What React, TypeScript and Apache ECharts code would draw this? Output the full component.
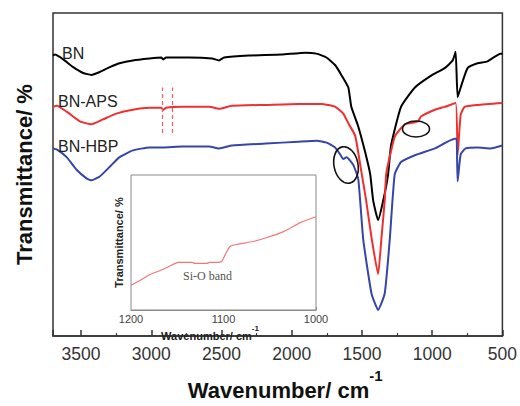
import React, { useEffect, useRef } from 'react';
import * as echarts from 'echarts';

const FONT = '"Liberation Sans", Arial, Helvetica, sans-serif';
const SERIF = '"Liberation Serif", "Times New Roman", serif';

// Main FTIR spectra (wavenumber in cm-1, transmittance in arbitrary units)
const bnWave = [3700, 3686, 3627, 3556, 3485, 3426, 3367, 3296, 3226, 3131, 3013, 2930, 2914, 2895, 2730, 2567, 2518, 2482, 2305, 2072, 1902, 1824, 1753, 1690, 1647, 1597, 1576, 1527, 1477, 1441, 1420, 1385, 1349, 1314, 1293, 1222, 1123, 1010, 911, 854, 833, 819, 797, 748, 677, 606, 514, 500];
const bnT = [290, 291, 286, 278, 272, 270, 273, 278, 282, 285, 287, 288, 286, 288, 288, 287, 285, 288, 290, 291, 293, 292, 288, 280, 270, 257, 237, 217, 190, 167, 140, 120, 140, 167, 197, 237, 257, 269, 277, 285, 294, 247, 257, 277, 282, 284, 292, 292];

const apsWave = [3700, 3674, 3603, 3509, 3426, 3344, 3249, 3131, 3013, 2930, 2914, 2895, 2777, 2588, 2518, 2426, 2185, 1951, 1788, 1690, 1633, 1597, 1548, 1510, 1470, 1430, 1385, 1362, 1338, 1328, 1300, 1264, 1194, 1123, 1100, 1080, 981, 911, 833, 819, 797, 769, 677, 500];
const apsT = [237, 238, 232, 222, 219, 224, 230, 234, 236, 236, 234, 236, 237, 237, 235, 238, 239, 240, 240, 237, 230, 220, 207, 175, 140, 100, 64, 100, 140, 167, 187, 207, 219, 221, 222, 227, 234, 237, 241, 187, 229, 237, 239, 241];

const hbpWave = [3700, 3674, 3603, 3532, 3461, 3426, 3367, 3296, 3226, 3131, 3013, 2919, 2777, 2588, 2518, 2426, 2185, 1951, 1822, 1751, 1691, 1656, 1633, 1609, 1562, 1526, 1491, 1432, 1385, 1338, 1302, 1267, 1222, 1123, 981, 840, 826, 819, 797, 762, 677, 585, 500];
const hbpT = [194, 193, 185, 172, 163, 161, 165, 175, 185, 192, 195, 195, 196, 196, 194, 197, 199, 201, 202, 200, 195, 188, 183, 185, 177, 162, 100, 44, 27, 44, 100, 167, 180, 187, 194, 204, 204, 160, 188, 194, 195, 194, 197];

// Inset: BN-APS Si-O band region
const insetWave = [1200, 1190, 1179, 1165, 1152, 1149, 1140, 1134, 1131, 1118, 1115, 1106, 1102, 1098, 1093, 1086, 1068, 1053, 1035, 1017, 1000];
const insetT = [25, 30, 36, 41, 47, 48, 48, 48, 47, 47, 48, 48, 49, 56, 64, 66, 69, 73, 79, 88, 94];

// C-H bands marked on BN-APS (dashed lines)
const chBands = [2921, 2850];
const chBandRange = [210, 257];

const zip = (xs: number[], ys: number[]) => xs.map((x, i) => [x, ys[i]]);

export default function App() {
  const ref = useRef<HTMLDivElement>(null);
  useEffect(() => {
    const chart = echarts.init(ref.current!, null, { renderer: 'svg' });
    chart.setOption({
      animation: false,
      backgroundColor: '#fff',
      grid: [
        { left: 53, top: 13, width: 452, height: 333, show: true, borderColor: '#333', borderWidth: 1.5, backgroundColor: 'transparent' },
        { left: 131, top: 175, width: 185, height: 135, show: true, borderColor: '#8a8a8a', borderWidth: 1, backgroundColor: '#fff', z: 5 },
      ],
      xAxis: [
        {
          gridIndex: 0, type: 'value', min: 500, max: 3700, inverse: true, interval: 500,
          axisLine: { show: true, lineStyle: { color: '#333', width: 1.5 } },
          axisTick: { show: true, inside: true, length: 6, lineStyle: { color: '#333', width: 1.5 } },
          minorTick: { show: true, splitNumber: 2, length: 3, lineStyle: { color: '#333', width: 1.2 } },
          splitLine: { show: false },
          axisLabel: {
            color: '#333', fontSize: 17.5, fontFamily: FONT, margin: 9,
            formatter: (v: number) => (v % 500 === 0 ? String(v) : ''),
          },
          name: '{a|Wavenumber/ cm}{s|-1}',
          nameLocation: 'middle', nameGap: 29,
          nameTextStyle: {
            padding: [0, 0, 0, 15],
            rich: {
              a: { fontSize: 22, fontWeight: 'bold', color: '#111', fontFamily: FONT, verticalAlign: 'bottom', lineHeight: 33 },
              s: { fontSize: 15, fontWeight: 'bold', color: '#111', fontFamily: FONT, verticalAlign: 'top', lineHeight: 33 },
            },
          },
        },
        {
          gridIndex: 1, type: 'value', min: 1000, max: 1200, inverse: true, interval: 50,
          axisLine: { show: true, lineStyle: { color: '#8a8a8a', width: 1 } },
          axisTick: { show: true, inside: true, length: 3, lineStyle: { color: '#8a8a8a', width: 1 } },
          splitLine: { show: false },
          axisLabel: {
            color: '#444', fontSize: 11, fontFamily: FONT, margin: 3,
            formatter: (v: number) => (v % 100 === 0 ? String(v) : ''),
          },
          name: '{a|Wavenumber/ cm}{s|-1}',
          nameLocation: 'middle', nameGap: 9,
          nameTextStyle: {
            padding: [0, 27, 0, 0],
            rich: {
              a: { fontSize: 11, fontWeight: 'bold', color: '#222', fontFamily: FONT, verticalAlign: 'bottom', lineHeight: 17 },
              s: { fontSize: 8, fontWeight: 'bold', color: '#222', fontFamily: FONT, verticalAlign: 'top', lineHeight: 17 },
            },
          },
        },
      ],
      yAxis: [
        {
          gridIndex: 0, type: 'value', min: 0, max: 334,
          axisLine: { show: false }, axisTick: { show: false }, axisLabel: { show: false }, splitLine: { show: false },
          name: 'Transmittance/ %', nameLocation: 'middle', nameRotate: 90, nameGap: 18,
          nameTextStyle: { fontSize: 22, fontWeight: 'bold', color: '#111', fontFamily: FONT },
        },
        {
          gridIndex: 1, type: 'value', min: 0, max: 136,
          axisLine: { show: false }, axisTick: { show: false }, axisLabel: { show: false }, splitLine: { show: false },
          name: 'Transmittance/ %', nameLocation: 'middle', nameRotate: 90, nameGap: 7,
          nameTextStyle: { fontSize: 11, fontWeight: 'bold', color: '#222', fontFamily: FONT },
        },
      ],
      series: [
        {
          name: 'BN', type: 'line', xAxisIndex: 0, yAxisIndex: 0, data: zip(bnWave, bnT),
          showSymbol: false, smooth: 0.15, lineStyle: { color: '#000', width: 2 }, itemStyle: { color: '#000' }, z: 3,
        },
        {
          name: 'BN-APS', type: 'line', xAxisIndex: 0, yAxisIndex: 0, data: zip(apsWave, apsT),
          showSymbol: false, smooth: 0.15, lineStyle: { color: '#ee3030', width: 2 }, itemStyle: { color: '#ee3030' }, z: 3,
          markLine: {
            silent: true, symbol: 'none', label: { show: false },
            lineStyle: { color: '#f06060', type: [4, 3], width: 1.2 },
            data: chBands.map((w) => [{ coord: [w, chBandRange[0]] }, { coord: [w, chBandRange[1]] }]),
          },
        },
        {
          name: 'BN-HBP', type: 'line', xAxisIndex: 0, yAxisIndex: 0, data: zip(hbpWave, hbpT),
          showSymbol: false, smooth: 0.15, lineStyle: { color: '#3545a8', width: 2 }, itemStyle: { color: '#3545a8' }, z: 3,
        },
        {
          name: 'BN-APS inset', type: 'line', xAxisIndex: 1, yAxisIndex: 1, data: zip(insetWave, insetT),
          showSymbol: false, smooth: 0.2, lineStyle: { color: '#f07878', width: 1.2 }, itemStyle: { color: '#f07878' }, z: 10,
        },
      ],
      graphic: [
        { type: 'text', left: 62, top: 45, z: 20, style: { text: 'BN', fontSize: 16, fontFamily: FONT, fill: '#222' } },
        { type: 'text', left: 58, top: 93, z: 20, style: { text: 'BN-APS', fontSize: 16, fontFamily: FONT, fill: '#222' } },
        { type: 'text', left: 58, top: 138, z: 20, style: { text: 'BN-HBP', fontSize: 16, fontFamily: FONT, fill: '#222' } },
        { type: 'text', left: 183, top: 270, z: 20, style: { text: 'Si-O band', fontSize: 12, fontFamily: SERIF, fill: '#555' } },
        {
          type: 'ellipse', z: 20, x: 346, y: 165, rotation: 0.2,
          shape: { cx: 0, cy: 0, rx: 12, ry: 18.5 },
          style: { fill: 'none', stroke: '#111', lineWidth: 1.6 },
        },
        {
          type: 'ellipse', z: 20, x: 416, y: 129,
          shape: { cx: 0, cy: 0, rx: 13.5, ry: 8 },
          style: { fill: 'none', stroke: '#111', lineWidth: 1.6 },
        },
      ],
    });
    return () => chart.dispose();
  }, []);
  return <div ref={ref} style={{ position: 'fixed', left: 0, top: 0, width: 520, height: 406 }} />;
}
